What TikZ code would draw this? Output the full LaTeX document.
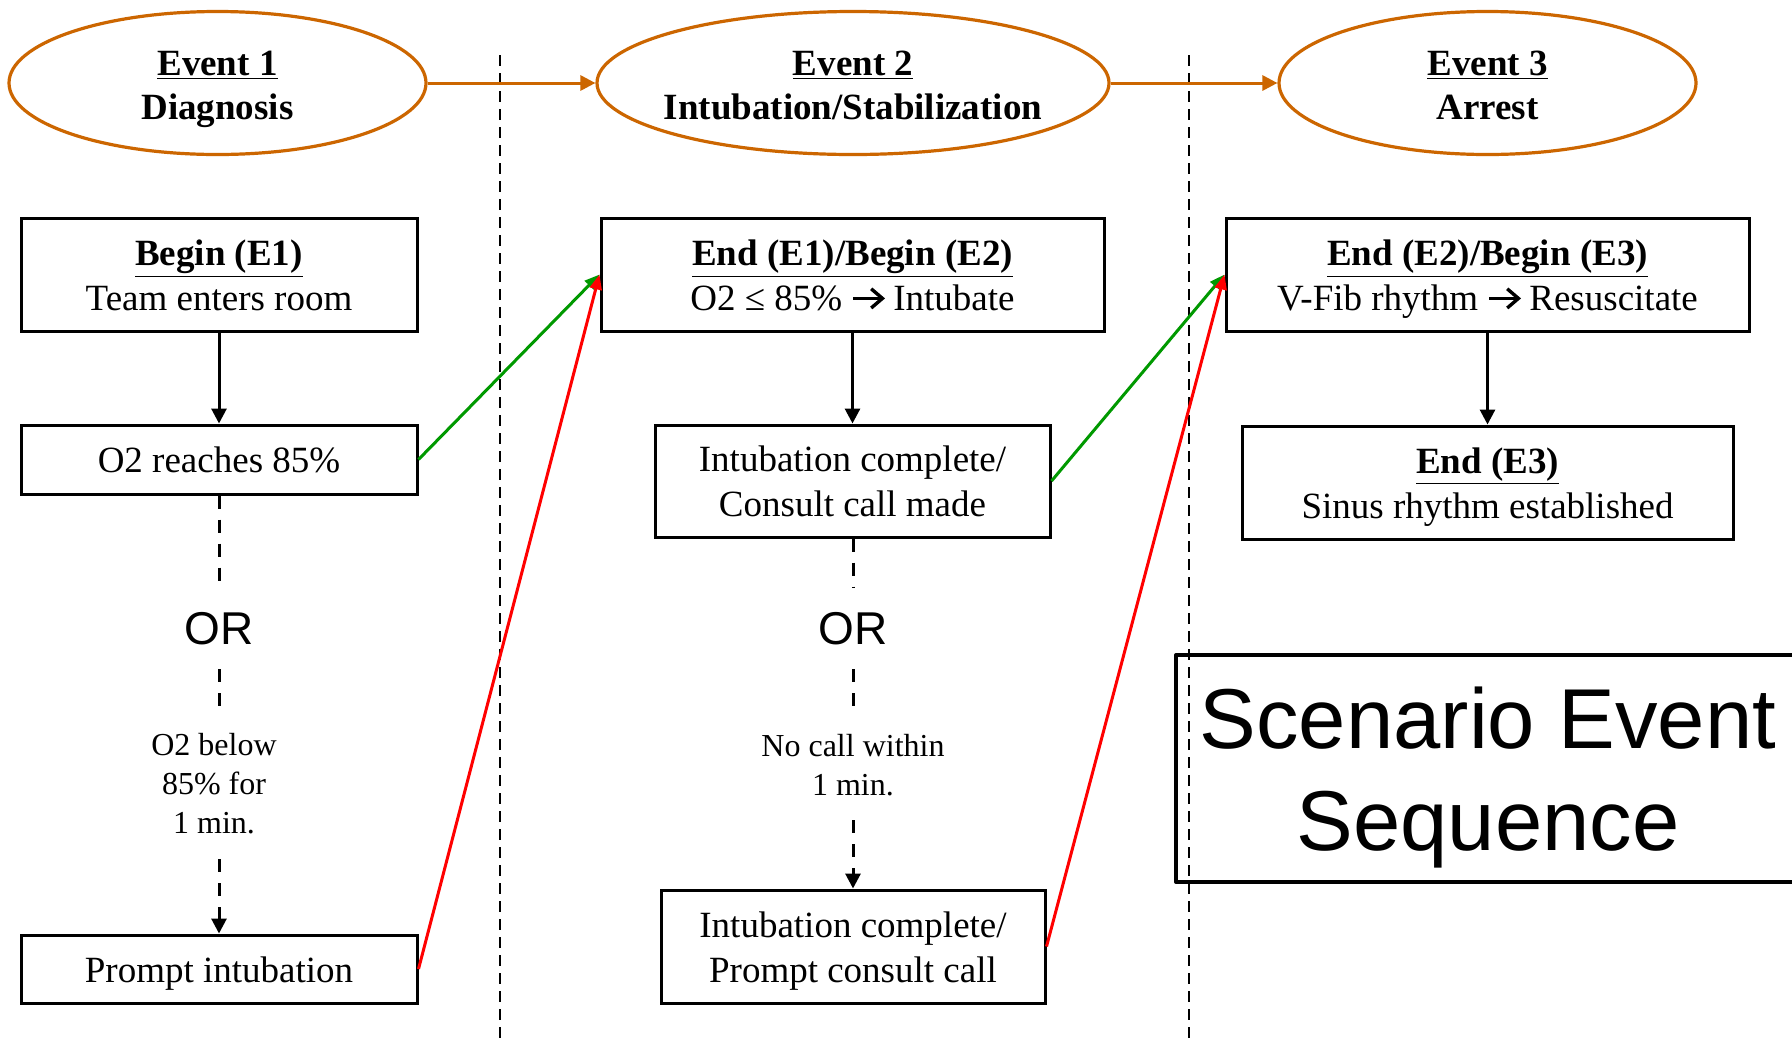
\documentclass[tikz,border=0pt]{standalone}
\usepackage{fontspec}
\setmainfont{Liberation Serif}
\newfontfamily\arialfont{Liberation Sans}
\usetikzlibrary{arrows.meta,shapes.geometric}
\definecolor{evorange}{RGB}{204,102,0}
\definecolor{okgreen}{RGB}{0,153,0}
\definecolor{badred}{RGB}{255,0,0}
\newcommand{\thickarrow}{\tikz[baseline=0pt]{\draw[line width=1.7pt] (0pt,5.8pt) -- (14pt,5.8pt);\draw[line width=1.7pt,line join=miter] (9pt,10.6pt) -- (14.6pt,5.8pt) -- (9pt,1pt);}}
% top struts (height only) and bottom struts (depth only)
\newcommand{\bxt}{\rule{0pt}{18pt}}
\newcommand{\bxb}{\rule[-5pt]{0pt}{5pt}}
\newcommand{\evt}{\rule{0pt}{19.3pt}}
\newcommand{\evb}{\rule[-5pt]{0pt}{5pt}}
\newcommand{\sst}{\rule{0pt}{40pt}}
\newcommand{\ssb}{\rule[-8.5pt]{0pt}{8.5pt}}
\tikzset{
  box/.style={draw, line width=1.5pt, inner sep=0pt, align=center, font=\fontsize{18.5}{22.5}\selectfont},
  evell/.style={ellipse, draw=evorange, line width=1.6pt, inner ysep=0pt, inner xsep=-12pt, align=center, minimum height=71.5pt, font=\bfseries\fontsize{18.5}{21.7}\selectfont},
  ortext/.style={inner sep=0pt, font=\arialfont\fontsize{23}{27}\selectfont, minimum height=40.5pt},
  lab/.style={inner sep=0pt, align=center, font=\fontsize{16}{19.5}\selectfont},
  flow/.style={line width=1.5pt, -{Triangle[length=7.5pt,width=7.5pt]}},
  dflow/.style={line width=1.5pt, dash pattern=on 6.5pt off 5.5pt},
  seqarr/.style={line width=1.5pt, draw=evorange, -{Triangle[length=7.5pt,width=7.5pt]}},
  goarr/.style={line width=1.5pt, draw=okgreen, -{Triangle[length=7.5pt,width=6pt]}},
  stoparr/.style={line width=1.5pt, draw=badred, -{Triangle[length=7.5pt,width=6pt]}},
  sepline/.style={line width=0.7pt, dash pattern=on 5.5pt off 3.5pt},
}
\begin{document}
\begin{tikzpicture}[x=0.5pt,y=-0.5pt]
\useasboundingbox[fill=white] (0,0) rectangle (1792,1045);

% separators
\coordinate (s1top) at (500,55);
\coordinate (s1bot) at (500,1040);
\coordinate (s2top) at (1189,55);
\coordinate (s2bot) at (1189,1040);
\draw[sepline] (s1top) -- (s1bot);
\draw[sepline] (s2top) -- (s2bot);

% event ellipses
\node[evell, minimum width=208.5pt] (ev1) at (217.5,83) {\evt\underline{Event 1}\\Diagnosis\evb};
\node[evell, minimum width=256pt] (ev2) at (853,83) {\evt\underline{Event 2}\\Intubation/Stabilization\evb};
\node[evell, minimum width=208.5pt] (ev3) at (1487.5,83) {\evt\underline{Event 3}\\Arrest\evb};
\draw[seqarr] (ev1) -- (ev2);
\draw[seqarr] (ev2) -- (ev3);

% column 1
\node[box, minimum width=198pt, minimum height=56.5pt] (b1) at (219,274.5) {\bxt\textbf{\underline{Begin (E1)}}\\Team enters room\bxb};
\node[box, minimum width=198pt, minimum height=34.5pt] (o2) at (219,459.5) {\bxt O2 reaches 85\%\bxb};
\node[ortext] (or1) at (219,628.5) {OR};
\node[lab, minimum height=75pt] (lab1) at (214,784) {O2 below\\85\% for\\1 min.};
\node[box, minimum width=198pt, minimum height=34pt] (pi) at (219,969) {\bxt Prompt intubation\bxb};
\draw[flow] (b1) -- (o2);
\draw[dflow] (o2) -- (or1);
\draw[dflow] (or1) -- (lab1.north -| or1);
\draw[dflow, -{Triangle[length=7.5pt,width=7.5pt]}] (lab1.south -| or1) -- (pi);

% column 2
\node[box, minimum width=251.5pt, minimum height=56.5pt] (e12) at (852.5,274.5) {\bxt\textbf{\underline{End (E1)/Begin (E2)}}\\O2 ≤ 85\% \thickarrow{} Intubate\bxb};
\node[box, minimum width=197.5pt, minimum height=56pt] (ic) at (852.5,481) {\bxt Intubation complete/\\Consult call made\bxb};
\node[ortext] (or2) at (853,628.5) {OR};
\node[lab, minimum height=54.5pt] (lab2) at (853,765.5) {No call within\\1 min.};
\node[box, minimum width=192pt, minimum height=56.5pt] (pc) at (853,946.5) {\bxt Intubation complete/\\Prompt consult call\bxb};
\draw[flow] (e12) -- (ic);
\draw[dflow] (ic.south -| or2) -- (or2);
\draw[dflow] (or2) -- (lab2);
\draw[dflow, -{Triangle[length=7.5pt,width=7.5pt]}] (lab2.south -| pc) -- (pc);

% column 3
\node[box, minimum width=261.5pt, minimum height=56.5pt] (e23) at (1487.5,274.5) {\bxt\textbf{\underline{End (E2)/Begin (E3)}}\\V-Fib rhythm \thickarrow{} Resuscitate\bxb};
\node[box, minimum width=245.5pt, minimum height=56.5pt] (e3) at (1487.5,482.5) {\bxt\textbf{\underline{End (E3)}}\\Sinus rhythm established\bxb};
\draw[flow] (e23) -- (e3);

% cross-column transitions
\draw[goarr] (o2.east) -- (e12.west);
\draw[stoparr] (pi.east) -- (e12.west);
\draw[goarr] (ic.east) -- (e23.west);
\draw[stoparr] (pc.east) -- (e23.west);

% title box
\node[draw, line width=2pt, line join=round, inner sep=0pt, minimum width=312pt, minimum height=113.5pt, align=center, font=\arialfont\fontsize{42.5}{51}\selectfont] (ses) at (1488,768.5) {\sst Scenario Event\\Sequence\ssb};
\end{tikzpicture}
\end{document}
